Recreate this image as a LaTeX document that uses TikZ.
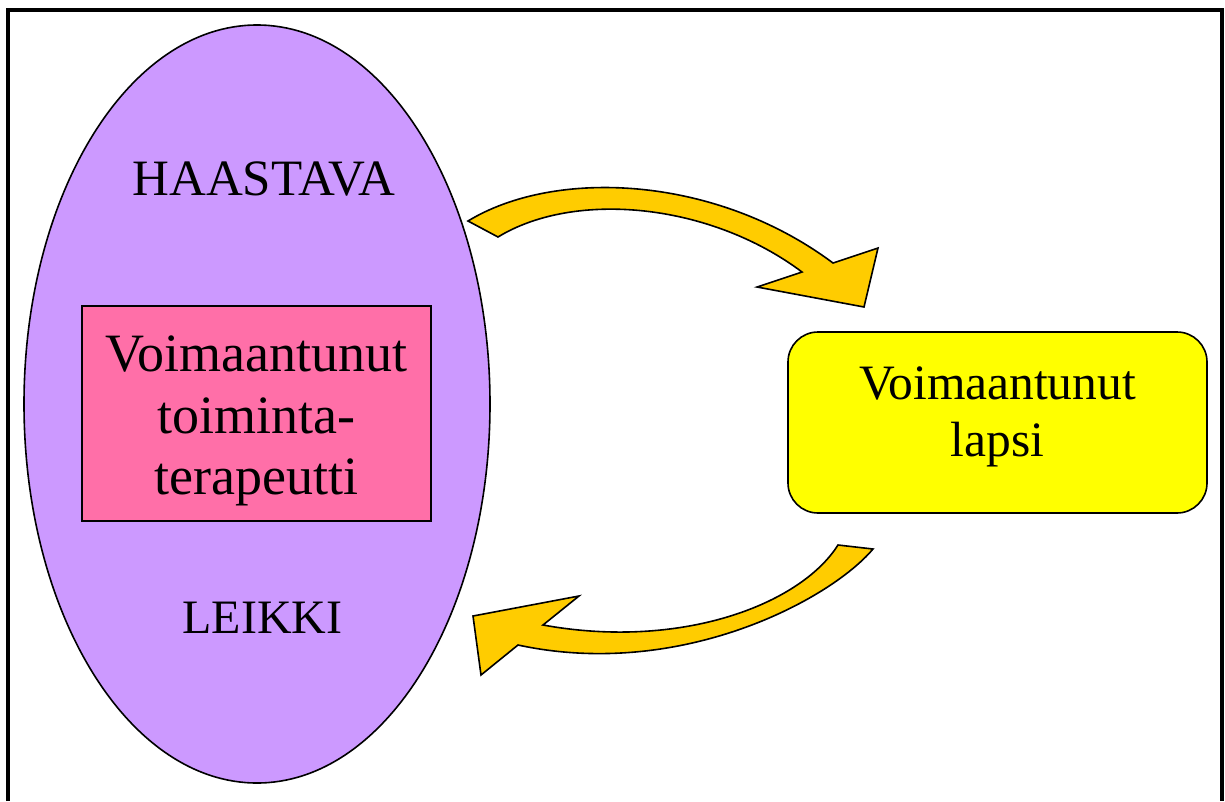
\documentclass[tikz,border=0pt]{standalone}
\usepackage{fontspec}
\setmainfont{Liberation Serif}
\usetikzlibrary{shapes.geometric}
\definecolor{ovalc}{HTML}{CC99FF}
\definecolor{pinkc}{HTML}{FF6FA8}
\definecolor{yellowc}{HTML}{FFFF00}
\definecolor{arrowc}{HTML}{FFCC00}
\begin{document}
\begin{tikzpicture}[x=1pt,y=-1pt,
  outline/.style={draw=black,line width=1.6pt},
  bigarrow/.style={outline,fill=arrowc,line join=miter},
  lbl/.style={font=\fontsize{48}{57}\selectfont,anchor=base,inner sep=0pt}]
\useasboundingbox (0,0) rectangle (1225,801);
% frame
\draw[line width=4pt] (8,801) -- (8,10) -- (1221.5,10) -- (1221.5,801);
% oval
\node (oval) [outline,ellipse,fill=ovalc,minimum width=466pt,minimum height=758pt,inner sep=0pt] at (257,404) {};
\node (haastava) [lbl,font=\fontsize{51}{60}\selectfont] at (264,195) {HAASTAVA};
\node (leikki) [lbl] at (262.5,633) {LEIKKI};
% pink box
\node (terapeutti) [outline,fill=pinkc,minimum width=349pt,minimum height=215pt,inner sep=0pt,
  align=center,font=\fontsize{54}{61.5}\selectfont] at (256.5,413.5)
  {\raisebox{-7.5pt}[\height][\depth]{\parbox{340pt}{\centering Voimaantunut\\toiminta-\\terapeutti}}};
% yellow box
\node (lapsi) [outline,fill=yellowc,rounded corners=30pt,minimum width=419pt,minimum height=181pt,inner sep=0pt,
  align=center,font=\fontsize{49.5}{57}\selectfont] at (997.5,422.5)
  {\raisebox{6pt}[\height][\depth]{\parbox{400pt}{\centering Voimaantunut\\lapsi}}};
% upper arrow
\draw[bigarrow] (468,221) .. controls (555,168) and (715,175) .. (833,263)
  -- (878,248) -- (864,307) -- (757,287) -- (802,272)
  .. controls (710,203) and (575,190) .. (498,237) -- cycle;
% lower arrow
\draw[bigarrow] (873,549) .. controls (830,600) and (680,680) .. (518,645)
  -- (481,675) -- (473,616) -- (579,596) -- (543,625)
  .. controls (680,650) and (800,605) .. (838,545) -- cycle;
\end{tikzpicture}
\end{document}
